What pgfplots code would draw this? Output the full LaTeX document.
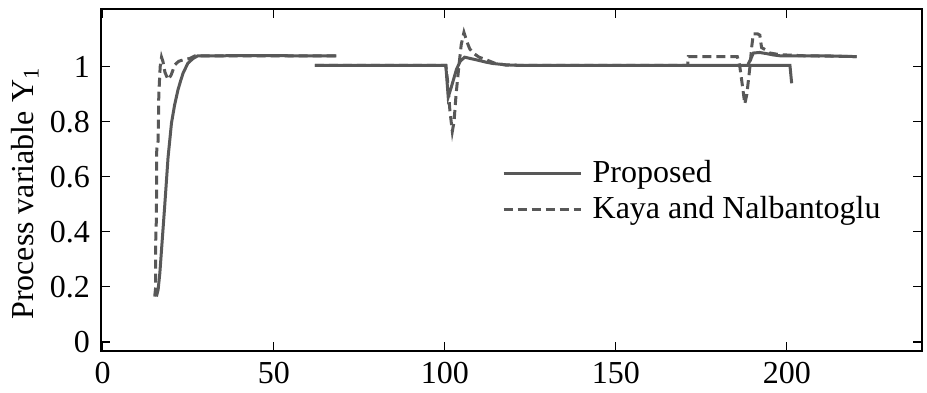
\documentclass[border=0pt]{standalone}
\usepackage{fontspec}
\setmainfont{Liberation Serif}
\usepackage{pgfplots}
\pgfplotsset{compat=1.18}
\definecolor{lg}{RGB}{88,88,88}
\begin{document}
\fontsize{16}{19}\selectfont
\begin{tikzpicture}
\begin{axis}[
  scale only axis, width=410.5pt, height=171pt,
  xmin=-0.5, xmax=239.5, ymin=-0.033, ymax=1.21,
  xtick={0,50,100,150,200}, ytick={0,0.2,0.4,0.6,0.8,1},
  yticklabels={0,0.2,0.4,0.6,0.8,1},
  /pgf/number format/assume math mode=true,
  tick align=inside, major tick length=4.5pt,
  axis line style={line width=0.6pt},
  every tick/.style={black, line width=0.6pt},
  ylabel={Process variable Y\textsubscript{1}},
  ylabel style={at={(axis description cs:-0.0926,0.46)}, anchor=center},
  unbounded coords=jump,
  legend style={draw=none, fill=none, at={(axis description cs:0.488,0.573)}, anchor=north west,
    inner sep=0pt, row sep=0pt, column sep=3pt, nodes={inner sep=2.3pt}},
  legend cell align=left,
  legend image code/.code={\draw[#1] (0pt,0pt) -- (38.5pt,0pt);},
]
\addplot[lg, line width=1.5pt] coordinates {
 (15.7,0.165) (16.2,0.19) (16.7,0.25) (17.4,0.37) (18.1,0.49) (18.6,0.58) (19.1,0.67)
 (20.1,0.795) (21.0,0.86) (22.0,0.916) (22.8,0.95) (23.5,0.977) (24.9,1.013) (26.4,1.03)
 (27.8,1.04) (35,1.04) (45,1.041) (55,1.04) (68.3,1.04)
 (68.3,nan)
 (62,1.005) (80,1.005) (100.3,1.005) (101,0.89) (102,0.93) (103.4,0.99) (104.5,1.02)
 (105.8,1.035) (107.5,1.03) (109.3,1.025) (112,1.017) (114,1.012) (118,1.007) (122,1.005)
 (150,1.005) (188.7,1.005) (200.9,1.005) (201.4,0.94)
 (201.4,nan)
 (188.7,1.01) (189.5,1.03) (190.2,1.05) (192,1.052) (194,1.048) (196,1.043) (198,1.04)
 (210,1.04) (220.4,1.037)
};
\addlegendentry{Proposed}
\addplot[lg, line width=1.5pt, dash pattern=on 4.5pt off 2.5pt] coordinates {
 (15.2,0.165) (15.5,0.2) (15.5,0.37) (15.7,0.45) (15.8,0.70) (16.2,0.73) (16.4,0.9)
 (16.8,1.0) (17.2,1.035) (17.6,1.02) (18.2,0.98) (19.1,0.953) (20,0.97) (21.1,1.007)
 (22.2,1.02) (23.5,1.025) (25.4,1.03) (27,1.04) (40,1.04) (55,1.04) (68.3,1.04)
 (68.3,nan)
 (62,1.005) (100.3,1.005) (100.8,0.95) (101.5,0.84) (102.2,0.765) (102.7,0.8) (103.3,0.9)
 (104.1,1.0) (104.8,1.08) (105.6,1.125) (106.5,1.09) (107.3,1.065) (108.3,1.05) (110,1.035)
 (112.2,1.025) (114.6,1.013) (118,1.006) (125,1.005) (171,1.005)
 (171.2,1.037) (185.5,1.037) (186.2,1.005) (186.8,0.95) (187.7,0.865) (188.3,0.9)
 (189.2,1.0) (189.7,1.07) (190.2,1.12) (191.4,1.12) (192.1,1.115) (192.6,1.07) (194,1.06)
 (195,1.05) (197.9,1.044) (205,1.04) (220.4,1.037)
};
\addlegendentry{Kaya and Nalbantoglu}
\end{axis}
\pgfresetboundingbox
\path (-50.5pt,-20.5pt) rectangle (413pt,175.5pt);
\end{tikzpicture}
\end{document}
